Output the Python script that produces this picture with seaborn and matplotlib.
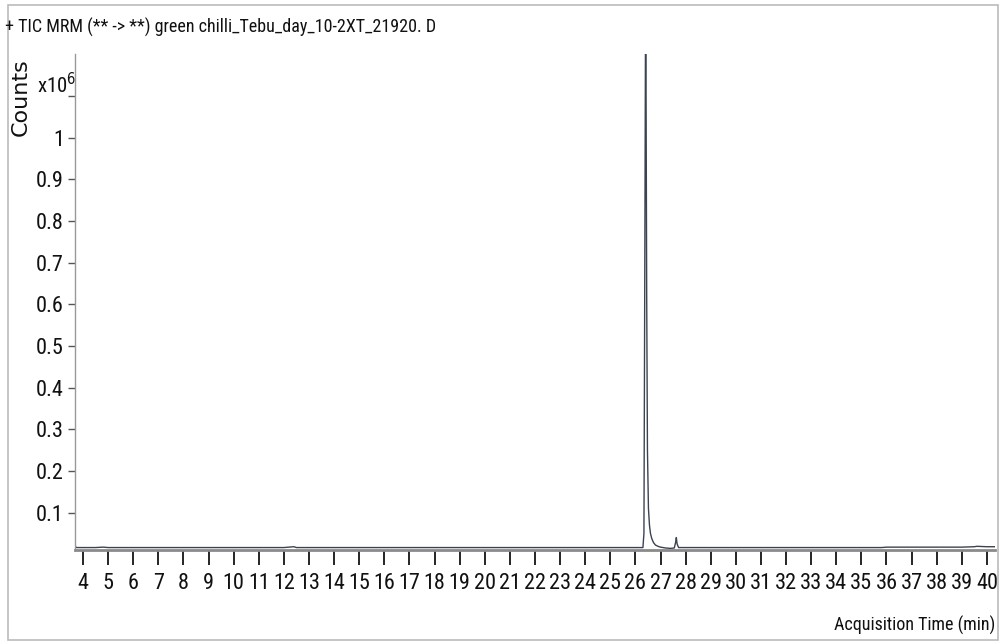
import matplotlib.pyplot as plt
import matplotlib.patches as mpatches
import pandas as pd
import seaborn as sns

# --- chromatogram trace (counts in units of 1e6) ---
acq_time = [3.68, 3.70, 3.74, 3.80, 4.0, 4.5, 4.8, 5.0, 6.0, 6.5, 7.0, 8.0, 9.0, 10.0,
            11.0, 12.0, 12.4, 12.5, 13.0, 14.0, 15.0, 16.0, 17.0, 18.0, 19.0, 20.0,
            21.0, 22.0, 23.0, 24.0, 25.0, 26.0, 26.30, 26.34, 26.37, 26.40, 26.42,
            26.45, 26.48, 26.52, 26.56, 26.60, 26.65, 26.72, 26.80, 26.90, 27.0,
            27.2, 27.4, 27.55, 27.60, 27.63, 27.66, 27.72, 28.0, 29.0, 30.0, 31.0,
            32.0, 33.0, 34.0, 35.0, 35.8, 36.0, 37.0, 38.0, 39.0, 39.5, 39.6, 40.0, 40.32]
counts = [0.032, 0.018, 0.016, 0.016, 0.016, 0.016, 0.017, 0.016, 0.016, 0.016,
          0.016, 0.016, 0.016, 0.016, 0.016, 0.016, 0.018, 0.016, 0.016, 0.016,
          0.016, 0.016, 0.016, 0.016, 0.016, 0.016, 0.016, 0.016, 0.016, 0.016,
          0.016, 0.016, 0.016, 0.05, 0.6, 1.21, 1.21, 0.62, 0.25, 0.11, 0.07,
          0.05, 0.038, 0.028, 0.022, 0.019, 0.017, 0.015, 0.014, 0.015, 0.028,
          0.040, 0.025, 0.016, 0.016, 0.016, 0.016, 0.016, 0.016, 0.016, 0.016,
          0.016, 0.016, 0.017, 0.017, 0.017, 0.017, 0.018, 0.019, 0.018, 0.018]

x_ticks = list(range(4, 41))
y_ticks = [0.1, 0.2, 0.3, 0.4, 0.5, 0.6, 0.7, 0.8, 0.9, 1.0, 1.1]
y_labels = ["0.1", "0.2", "0.3", "0.4", "0.5", "0.6", "0.7", "0.8", "0.9", "1", ""]

title = "+ TIC MRM (** -> **) green chilli_Tebu_day_10-2XT_21920. D"

sns.set_theme(style="white")
narrow = ["Liberation Sans Narrow", "Roboto Condensed", "DejaVu Sans"]
plt.rcParams["font.family"] = narrow
plt.rcParams["font.stretch"] = "condensed"

df = pd.DataFrame({"time": acq_time, "counts": counts})

fig = plt.figure(figsize=(10.05, 6.43), dpi=100)
ax = fig.add_axes([0.0746, 0.1439, 0.9154, 0.7715])

sns.lineplot(data=df, x="time", y="counts", ax=ax, color="#3b4352", linewidth=1.0)

ax.set_xlim(3.68, 40.32)
ax.set_ylim(0.009, 1.2)
ax.set_xticks(x_ticks)
ax.set_xticklabels([str(t) for t in x_ticks])
ax.set_yticks(y_ticks)
ax.set_yticklabels(y_labels)
ax.set_xlabel("")
ax.set_ylabel("")

ax.tick_params(axis="x", direction="out", length=11, width=1.2, color="black",
               pad=5, labelsize=16, bottom=True)
ax.tick_params(axis="y", direction="out", length=5, width=1.0, color="#555555",
               pad=3, labelsize=16, left=True)
for lab in ax.get_xticklabels() + ax.get_yticklabels():
    lab.set_fontstretch("condensed")
    lab.set_color("#111111")

for side in ["top", "right"]:
    ax.spines[side].set_visible(False)
ax.spines["left"].set_color("#999999")
ax.spines["left"].set_linewidth(1.0)
ax.spines["bottom"].set_color("#8a8a8a")
ax.spines["bottom"].set_linewidth(2.0)

# --- texts ---
fig.text(5 / 1005, 1 - 27 / 643, title, fontsize=13, va="center", ha="left",
         family=narrow, fontstretch="condensed", color="#111111")
fig.text(21 / 1005, 1 - 97 / 643, "Counts", fontsize=16, rotation=90,
         va="center", ha="center", family="DejaVu Sans", fontstretch="normal",
         color="#111111")
fig.text(37 / 1005, 1 - 85 / 643, "x10$^6$", fontsize=15, va="center", ha="left",
         family=narrow, fontstretch="condensed", color="#111111")
fig.text(995 / 1005, 1 - 625 / 643, "Acquisition Time (min)", fontsize=13,
         va="center", ha="right", family=narrow, fontstretch="condensed",
         color="#111111")

# --- outer frame ---
fig.patches.append(mpatches.Rectangle((8 / 1005, 3 / 643), 990 / 1005, 635 / 643,
                                      transform=fig.transFigure, fill=False,
                                      edgecolor="#bbbbbb", linewidth=1.2))

fig.savefig("out.png", dpi=100)
